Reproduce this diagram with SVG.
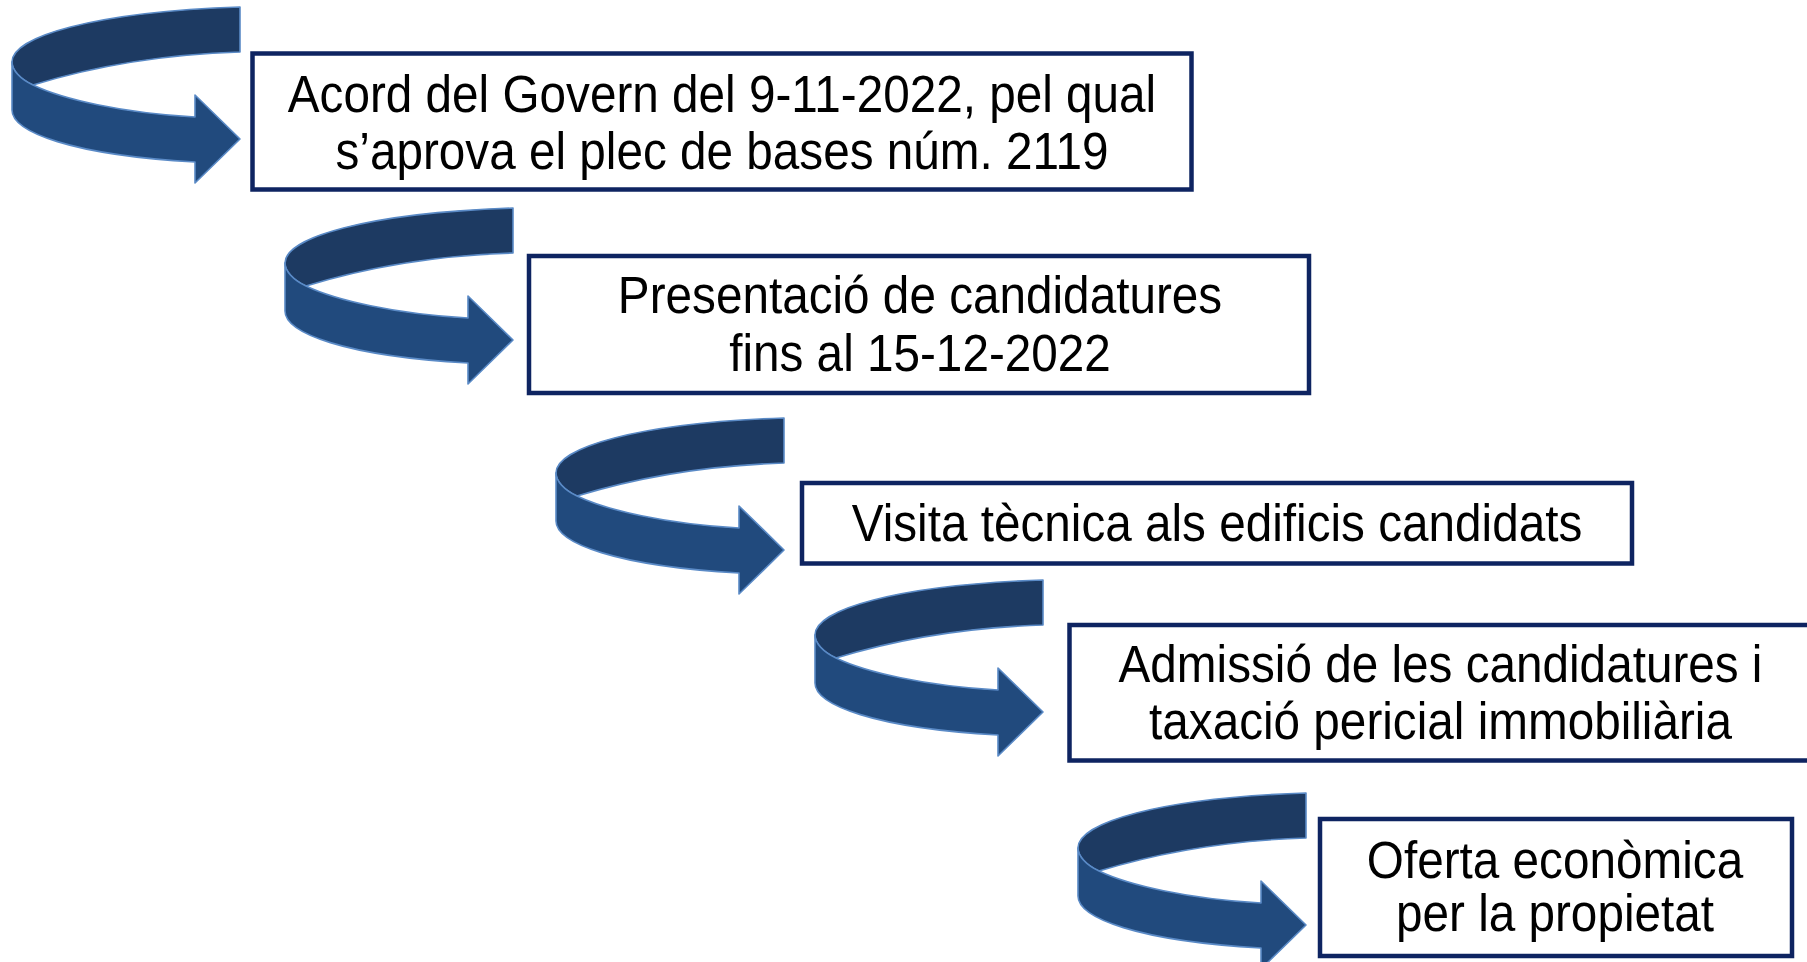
<svg xmlns="http://www.w3.org/2000/svg" xmlns:xlink="http://www.w3.org/1999/xlink" width="1807" height="962" viewBox="0 0 1807 962">
  <style>
    .box { fill: #ffffff; stroke: #0e2461; stroke-width: 4.5; }
    .lbl { font-family: "Liberation Sans", Arial, sans-serif; font-size: 51px; fill: #000000; text-anchor: middle; }
    .back { fill: #1d3a62; stroke: #5a8ac6; stroke-width: 1.6; stroke-linejoin: round; }
    .front { fill: #214a7d; stroke: #5a8ac6; stroke-width: 1.6; stroke-linejoin: round; }
  </style>
  <defs>
    <g id="curl">
      <path class="back" d="M228,0 L228,45 C130,48 60,66 21,78 C8,72 0,63 0,55 C0,30 80,5 228,0 Z"/>
      <path class="front" d="M0,55 C0,63 8,72 21,78 C50,92 110,106 183,110 L183,88 L228,132 L183,176 L183,155 C60,148 0,125 0,103 Z"/>
    </g>
  </defs>
  <rect width="1807" height="962" fill="#ffffff"/>
  <g id="connectors">
    <use xlink:href="#curl" href="#curl" transform="translate(12,7)"/>
    <use xlink:href="#curl" href="#curl" transform="translate(285,208)"/>
    <use xlink:href="#curl" href="#curl" transform="translate(556,418)"/>
    <use xlink:href="#curl" href="#curl" transform="translate(815,580)"/>
    <use xlink:href="#curl" href="#curl" transform="translate(1078,793)"/>
  </g>
  <g id="node1">
    <rect class="box" x="252.5" y="53.5" width="939" height="136"/>
    <g transform="translate(722,0) scale(0.935,1)">
      <text class="lbl" x="0" y="112">Acord del Govern del 9-11-2022, pel qual</text>
      <text class="lbl" x="0" y="169.5">s’aprova el plec de bases núm. 2119</text>
    </g>
  </g>
  <g id="node2">
    <rect class="box" x="529" y="256" width="780" height="137"/>
    <g transform="translate(920,0) scale(0.935,1)">
      <text class="lbl" x="0" y="313.5">Presentació de candidatures</text>
      <text class="lbl" x="0" y="371">fins al 15-12-2022</text>
    </g>
  </g>
  <g id="node3">
    <rect class="box" x="802" y="483" width="830" height="80.5"/>
    <g transform="translate(1217,0) scale(0.935,1)">
      <text class="lbl" x="0" y="541.5">Visita tècnica als edificis candidats</text>
    </g>
  </g>
  <g id="node4">
    <rect class="box" x="1069.5" y="625" width="745" height="135.5"/>
    <g transform="translate(1440.5,0) scale(0.935,1)">
      <text class="lbl" x="0" y="682">Admissió de les candidatures i</text>
      <text class="lbl" x="0" y="739">taxació pericial immobiliària</text>
    </g>
  </g>
  <g id="node5">
    <rect class="box" x="1320" y="819" width="472" height="137"/>
    <g transform="translate(1555,0) scale(0.935,1)">
      <text class="lbl" x="0" y="878">Oferta econòmica</text>
      <text class="lbl" x="0" y="931">per la propietat</text>
    </g>
  </g>
</svg>
